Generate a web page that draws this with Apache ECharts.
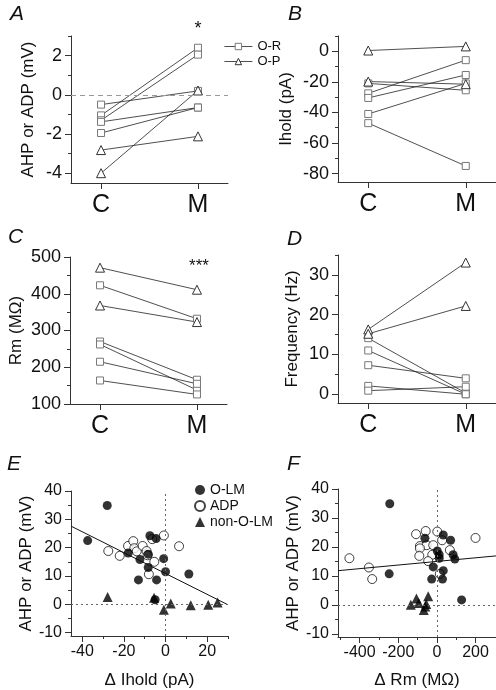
<!DOCTYPE html>
<html><head><meta charset="utf-8">
<script src="https://cdn.jsdelivr.net/npm/echarts@6/dist/echarts.min.js"></script>
<style>html,body{margin:0;padding:0;background:#fff}#c{width:496px;height:690px}</style>
</head><body><div id="c"></div>
<script>
// ---------- data ----------
const cats = ['C', 'M'];
// pairs: [control, modulated]
const aSquares = [[-0.5, 0.2], [-1.05, 2.4], [-1.3, 2.05], [-1.38, -0.65], [-1.95, -0.65]];
const aTriangles = [[-2.82, -2.12], [-4.0, 0.22]];
const bSquares = [[-21, -25.5], [-27.5, -5.8], [-30.5, -15.5], [-41, -21], [-47, -75]];
const bTriangles = [[0.5, 3.2], [-19.8, -21.5]];
const cSquares = [[423, 332], [270, 166], [262, 138], [215, 155], [164, 126]];
const cTriangles = [[471, 411], [368, 323]];
const dSquares = [[14.1, 0.3], [11, 0], [7.3, 4], [2.1, 0], [0.9, 1.9]];
const dTriangles = [[16.3, 33.1], [15.2, 22.2]];

const eOLM = [[-37.4,22.5],[-28,34.9],[-17.9,18.1],[-12.3,15.8],[-13,8.6],[-7.5,24.2],[-4.5,23.2],[-8.3,17.7],[-8.3,13],[-4.3,8.6],[-0.9,16.1],[0,11.5],[11.2,10.7],[-5,1.6]];
const eADP = [[-27.5,18.8],[-22,17.1],[-18,20.6],[-15.5,22.3],[-15,19.8],[-13.8,18.7],[-11,20.6],[-9.1,18.8],[-8.6,17.3],[-5.4,15],[-8,10.6],[-0.8,24.3],[6.5,20.5],[-6.4,23]];
const eNon = [[-27.8,2.6],[-5.5,2.3],[-0.8,-1.9],[2.5,0.3],[12.1,-0.3],[20.5,-0.2],[25,0.6]];
const eFit = [[-45.4, 27.6], [29.5, 0]];

const fOLM = [[-244,34.9],[-247,10.7],[-62,23],[33,24.1],[71,22.3],[2,18.6],[12,17.3],[12,16.1],[84,17.3],[93,15.8],[-19,13.1],[33,11.8],[-27,8.9],[29,8.9],[128,1.7]];
const fADP = [[-453,16.1],[-352,12.9],[-335,8.9],[-108,24.4],[-58,25.5],[2,25.3],[27,22.3],[-88,20.3],[-53,20.6],[-19,20.6],[-88,19.5],[-91,16.9],[-24,17.3],[-45,15.1],[67,18.9],[200,23.1],[15,10.7]];
const fNon = [[-135,0],[-106,2.2],[-94,0.6],[-45,3],[-55,0.3],[-68,-1.8],[-60,-0.6]];
const fFit = [[-512, 11.8], [306, 16.9]];

// tick values
const aMajor = [-4, -2, 0, 2], aMinor = [-3, -1, 1, 3];
const bMajor = [-80, -60, -40, -20, 0], bMinor = [-70, -50, -30, -10, 10];
const cMajor = [100, 200, 300, 400, 500], cMinor = [150, 250, 350, 450];
const dMajor = [0, 10, 20, 30], dMinor = [5, 15, 25, 35];
const eXMajor = [-40, -20, 0, 20], eXMinor = [-30, -10, 10, 30];
const fXMajor = [-400, -200, 0, 200], fXMinor = [-500, -300, -100, 100];
const efYMajor = [-10, 0, 10, 20, 30, 40], efYMinor = [-5, 5, 15, 25, 35];

// ---------- styling ----------
const FONT = '"Liberation Sans", Arial, sans-serif';
const AX = '#333';
const TXT = '#111';

function yPair(grid, min, max, majors, minors, name, nameGap, fs) {
  return [{
    type: 'value', gridIndex: grid, min, max, position: 'left',
    axisLine: { show: true, onZero: false, lineStyle: { color: AX, width: 1 } },
    axisTick: { show: true, customValues: majors, length: 6, lineStyle: { color: AX } },
    axisLabel: { show: true, customValues: majors, fontSize: fs, color: TXT, fontFamily: FONT, margin: 9 },
    splitLine: { show: false },
    name, nameLocation: 'middle', nameGap,
    nameTextStyle: { fontSize: 17, color: TXT, fontFamily: FONT }
  }, {
    type: 'value', gridIndex: grid, min, max, position: 'left',
    axisLine: { show: false, onZero: false },
    axisTick: { show: true, customValues: minors, length: 3, lineStyle: { color: AX } },
    axisLabel: { show: false }, splitLine: { show: false }
  }];
}
function xCat(grid) {
  return {
    type: 'value', gridIndex: grid, min: -0.31, max: 1.31, position: 'bottom',
    axisLine: { show: true, onZero: false, lineStyle: { color: AX, width: 1 } },
    axisTick: { show: true, customValues: [0, 1], length: 6, lineStyle: { color: AX } },
    axisLabel: { show: true, customValues: [0, 1], fontSize: 25, color: TXT, fontFamily: FONT, margin: 10,
      formatter: v => cats[Math.round(v)] },
    splitLine: { show: false }
  };
}
function xPair(grid, min, max, majors, minors, name, nameGap) {
  return [{
    type: 'value', gridIndex: grid, min, max, position: 'bottom',
    axisLine: { show: true, onZero: false, lineStyle: { color: AX, width: 1 } },
    axisTick: { show: true, customValues: majors, length: 6, lineStyle: { color: AX } },
    axisLabel: { show: true, customValues: majors, fontSize: 16, color: TXT, fontFamily: FONT, margin: 8 },
    splitLine: { show: false },
    name, nameLocation: 'middle', nameGap,
    nameTextStyle: { fontSize: 17, color: TXT, fontFamily: FONT }
  }, {
    type: 'value', gridIndex: grid, min, max, position: 'bottom',
    axisLine: { show: false, onZero: false },
    axisTick: { show: true, customValues: minors, length: 3, lineStyle: { color: AX } },
    axisLabel: { show: false }, splitLine: { show: false }
  }];
}

const xAxis = [xCat(0), xCat(1), xCat(2), xCat(3),
  ...xPair(4, -45.4, 30, eXMajor, eXMinor, 'Δ Ihold (pA)', 36),
  ...xPair(5, -512, 306, fXMajor, fXMinor, 'Δ Rm (MΩ)', 35)];
const yAxis = [
  ...yPair(0, -4.5, 3, aMajor, aMinor, 'AHP or ADP (mV)', 34, 18),
  ...yPair(1, -85.5, 10, bMajor, bMinor, 'Ihold (pA)', 43, 18),
  ...yPair(2, 100, 500, cMajor, cMinor, 'Rm (MΩ)', 45, 18),
  ...yPair(3, -2.2, 35, dMajor, dMinor, 'Frequency (Hz)', 37, 18),
  ...yPair(4, -11.2, 40, efYMajor, efYMinor, 'AHP or ADP (mV)', 25, 16),
  ...yPair(5, -11.1, 40, efYMajor, efYMinor, 'AHP or ADP (mV)', 35, 16)
];

const SQ = { symbol: 'rect', symbolSize: 7, itemStyle: { color: '#fff', borderColor: '#777', borderWidth: 1 } };
const TR = { symbol: 'triangle', symbolSize: 9, itemStyle: { color: '#fff', borderColor: '#333', borderWidth: 1 } };

function pairs(list, name, st, xi, yi) {
  return list.map(p => ({
    type: 'line', name, xAxisIndex: xi, yAxisIndex: yi,
    data: [[0, p[0]], [1, p[1]]],
    symbol: st.symbol, symbolSize: st.symbolSize, itemStyle: st.itemStyle,
    lineStyle: { color: '#222', width: 0.8 }, showSymbol: true, animation: false, silent: true
  }));
}

const series = [];
series.push({
  type: 'line', xAxisIndex: 0, yAxisIndex: 0, data: [], silent: true, animation: false,
  markLine: { silent: true, symbol: 'none', label: { show: false },
    lineStyle: { type: [5, 4], color: '#999', width: 1 }, data: [{ yAxis: 0 }] }
});
series.push(...pairs(aSquares, 'O-R', SQ, 0, 0), ...pairs(aTriangles, 'O-P', TR, 0, 0));
series.push(...pairs(bSquares, 'O-R', SQ, 1, 2), ...pairs(bTriangles, 'O-P', TR, 1, 2));
series.push(...pairs(cSquares, 'O-R', SQ, 2, 4), ...pairs(cTriangles, 'O-P', TR, 2, 4));
series.push(...pairs(dSquares, 'O-R', SQ, 3, 6), ...pairs(dTriangles, 'O-P', TR, 3, 6));

function scatterSet(xi, yi, olm, adp, non, fit) {
  return [
    { type: 'line', xAxisIndex: xi, yAxisIndex: yi, data: fit, symbol: 'none', silent: true, animation: false,
      lineStyle: { color: '#111', width: 1 },
      markLine: { silent: true, symbol: 'none', label: { show: false },
        lineStyle: { type: [2, 3], color: '#666', width: 1 }, data: [{ yAxis: 0 }, { xAxis: 0 }] } },
    { type: 'scatter', name: 'ADP', xAxisIndex: xi, yAxisIndex: yi, data: adp, symbol: 'circle', symbolSize: 9,
      itemStyle: { color: '#fff', borderColor: '#111', borderWidth: 1 }, animation: false, silent: true },
    { type: 'scatter', name: 'O-LM', xAxisIndex: xi, yAxisIndex: yi, data: olm, symbol: 'circle', symbolSize: 9,
      itemStyle: { color: '#000' }, animation: false, silent: true },
    { type: 'scatter', name: 'non-O-LM', xAxisIndex: xi, yAxisIndex: yi, data: non, symbol: 'triangle', symbolSize: 10,
      itemStyle: { color: '#000' }, animation: false, silent: true }
  ];
}
series.push(...scatterSet(4, 8, eOLM, eADP, eNon, eFit));
series.push(...scatterSet(6, 10, fOLM, fADP, fNon, fFit));

function lbl(t, x, y) {
  return { type: 'text', x, y, style: { text: t, fill: TXT, font: 'italic 21px ' + FONT, verticalAlign: 'middle' } };
}
function star(t, x, y, fs) {
  return { type: 'text', x, y, style: { text: t, fill: TXT, font: fs + 'px ' + FONT, align: 'center', verticalAlign: 'middle' } };
}

const option = {
  backgroundColor: '#fff',
  animation: false,
  textStyle: { fontFamily: FONT },
  grid: [
    { left: 71, top: 36, width: 157, height: 147 },
    { left: 338, top: 36, width: 158, height: 146 },
    { left: 70, top: 257, width: 157, height: 147 },
    { left: 338, top: 255, width: 158, height: 148 },
    { left: 71, top: 491, width: 157, height: 148 },
    { left: 338, top: 489, width: 158, height: 149 }
  ],
  xAxis, yAxis, series,
  legend: [
    { data: ['O-R', 'O-P'], orient: 'vertical', left: 219, top: 35, itemWidth: 28, itemHeight: 8, itemGap: 2,
      lineStyle: { width: 0.8 }, itemStyle: { borderWidth: 1 },
      selectedMode: false, textStyle: { fontSize: 13, color: TXT, fontFamily: FONT } },
    { data: ['O-LM', 'ADP', 'non-O-LM'], orient: 'vertical', left: 189, top: 478, itemWidth: 10, itemHeight: 10, itemGap: 2,
      selectedMode: false, textStyle: { fontSize: 14, color: TXT, fontFamily: FONT } }
  ],
  graphic: [
    lbl('A', 10, 14), lbl('B', 288, 14), lbl('C', 8, 237), lbl('D', 287, 239), lbl('E', 7, 464), lbl('F', 287, 464),
    star('*', 198, 29, 18), star('***', 199, 266, 17)
  ]
};
const chart = echarts.init(document.getElementById('c'), null, { renderer: 'canvas' });
chart.setOption(option);
</script></body></html>
